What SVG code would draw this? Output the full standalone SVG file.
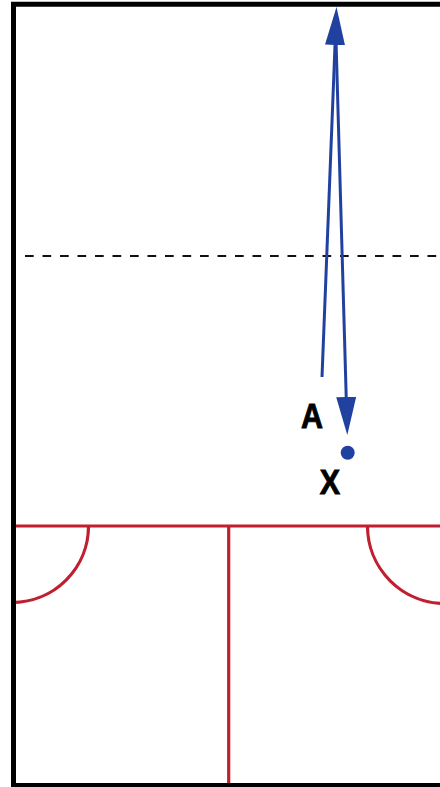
<svg xmlns="http://www.w3.org/2000/svg" width="440" height="787" viewBox="0 0 440 787">
<style>
.border{stroke:#000;stroke-width:5;fill:none}
.red{stroke:#c01f30;stroke-width:3.2;fill:none}
.dash{stroke:#111;stroke-width:1.8;stroke-dasharray:8.7 8.8;fill:none}
.move{stroke:#2141a0;stroke-width:3;fill:none}
.lbl{font-family:"Liberation Sans",Arial,sans-serif;font-weight:bold;font-size:35px;fill:#000;stroke:#000;stroke-width:0.9;text-anchor:middle}
</style>
<defs>
<marker id="ah" markerUnits="userSpaceOnUse" viewBox="0 0 38 20" markerWidth="38" markerHeight="20" refX="8" refY="10" orient="auto">
<path d="M0,0 L38,10 L0,20 z" fill="#2141a0"/>
</marker>
</defs>
<rect width="440" height="787" fill="#fff"/>
<g id="court">
<line class="red" x1="16" y1="526" x2="440" y2="526"/>
<line class="red" x1="228.7" y1="526" x2="228.7" y2="787"/>
<path class="red" d="M88.5,526 A76.5,76.5 0 0 1 12,602.5"/>
<path class="red" d="M367.5,526 A77.5,77.5 0 0 0 445,603.5"/>
<line class="dash" x1="25" y1="256" x2="440" y2="256"/>
<line class="border" x1="11" y1="4.2" x2="440" y2="4.2"/>
<line class="border" x1="13.5" y1="2" x2="13.5" y2="787"/>
<line class="border" x1="11" y1="785.5" x2="440" y2="785.5"/>
</g>
<g id="connectors">
<line class="move" x1="322" y1="377" x2="335.33" y2="36.98" marker-end="url(#ah)"/>
<line class="move" x1="336" y1="40" x2="346.44" y2="405.01" marker-end="url(#ah)"/>
</g>
<g id="playerA">
<text class="lbl" transform="translate(312,428) scale(0.87,1)">A</text>
</g>
<g id="pointX">
<circle cx="347.7" cy="452.7" r="7" fill="#2141a0"/>
<text class="lbl" transform="translate(330,494) scale(0.87,1)">X</text>
</g>
</svg>
